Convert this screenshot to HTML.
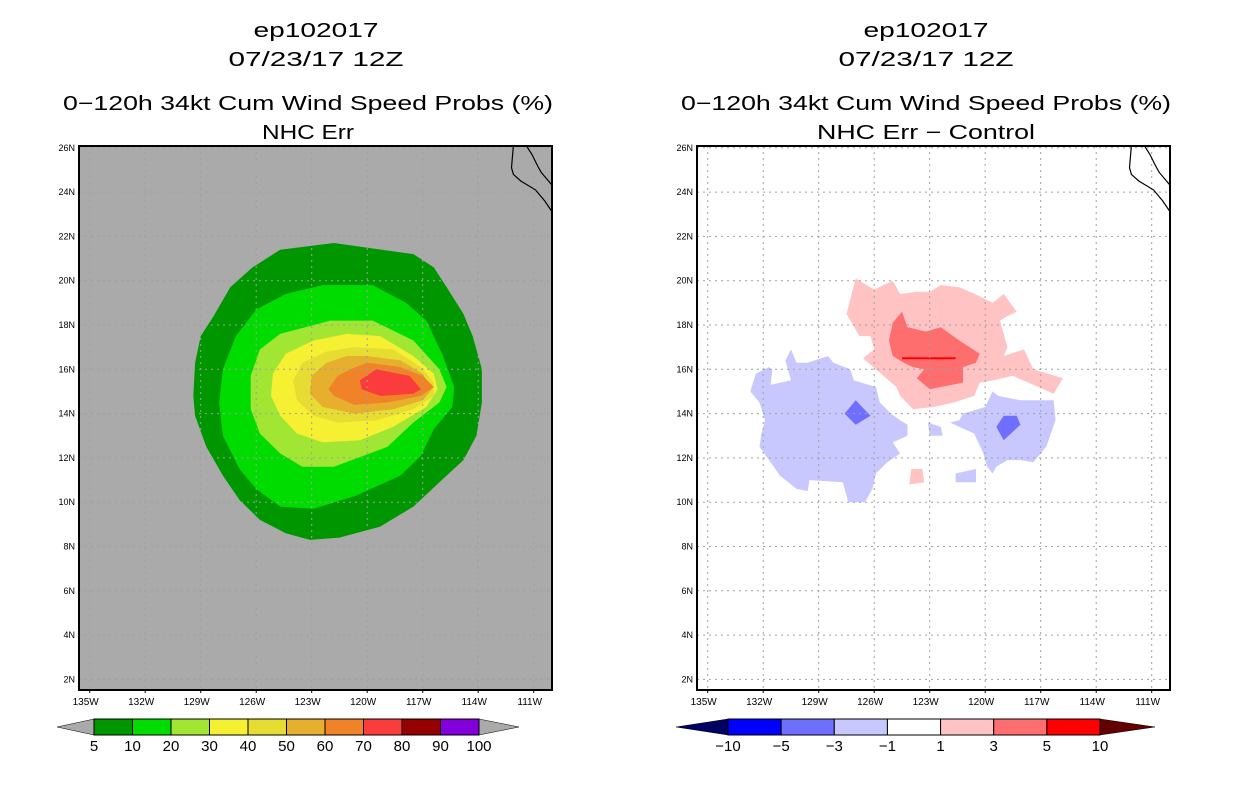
<!DOCTYPE html>
<html><head><meta charset="utf-8">
<style>
body{margin:0;background:#fff;width:1236px;height:800px;overflow:hidden;font-family:"Liberation Sans",sans-serif}
</style></head>
<body>
<svg id="svg" width="1236" height="800" xmlns="http://www.w3.org/2000/svg" font-family="Liberation Sans, sans-serif">
<g id="titles"></g>
<g id="left"></g>
<g id="right"></g>
<g id="cbars"></g>
</svg>
<script>
// ---- data ----
const lonTicks=[-135,-132,-129,-126,-123,-120,-117,-114,-111];
const lonTickLabels=["135W","132W","129W","126W","123W","120W","117W","114W","111W"];
const latTicks=[2,4,6,8,10,12,14,16,18,20,22,24,26];
const latTickLabels=["2N","4N","6N","8N","10N","12N","14N","16N","18N","20N","22N","24N","26N"];
const probLevels=["5","10","20","30","40","50","60","70","80","90","100"];
const probColors=["#009600","#00dc00","#a0e632","#f5f032","#e6dc32","#e6af2d","#f08228","#fa3c3c","#960000","#8200dc"];
const diffLevels=["\u221210","\u22125","\u22123","\u22121","1","3","5","10"];
const diffColors=["#0000ff","#6e6eff","#c8c8ff","#ffffff","#ffc3c3","#ff6e6e","#ff0000"];
const c5=[[-121.8,21.7],[-117.5,21.2],[-116.4,20.6],[-115.7,19.7],[-114.8,18.5],[-114.3,17.5],[-113.8,16.0],[-113.8,14.5],[-114.1,13.0],[-114.8,11.9],[-116.1,10.9],[-117.5,9.8],[-119.3,8.9],[-121.5,8.4],[-123.1,8.3],[-124.4,8.6],[-125.8,9.2],[-126.9,10.1],[-127.8,11.2],[-128.7,12.5],[-129.3,13.9],[-129.4,14.8],[-129.3,16.3],[-129.0,17.5],[-128.3,18.4],[-127.4,19.7],[-126.2,20.6],[-124.7,21.4]];
const c10=[[-122.4,19.8],[-119.7,19.8],[-117.9,19.0],[-116.8,18.2],[-115.9,16.6],[-115.3,15.2],[-115.4,14.3],[-116.4,13.3],[-117.1,12.1],[-118.2,11.2],[-120.6,10.3],[-122.9,9.7],[-124.7,9.8],[-126.0,10.6],[-126.9,11.5],[-127.8,13.0],[-128.0,14.5],[-127.8,16.0],[-127.1,17.5],[-126.0,18.7],[-124.4,19.4]];
const c20=[[-122.0,18.2],[-119.7,18.2],[-117.5,17.3],[-116.1,16.0],[-115.7,15.2],[-116.1,14.5],[-117.5,13.6],[-118.9,12.5],[-121.8,11.6],[-123.5,11.6],[-124.7,12.2],[-125.8,13.1],[-126.3,14.2],[-126.3,15.7],[-125.8,16.9],[-124.7,17.6]];
const c30=[[-121.1,17.6],[-119.3,17.5],[-117.5,16.6],[-116.4,15.8],[-116.2,15.1],[-116.8,14.3],[-118.6,13.4],[-120.4,12.8],[-122.4,12.7],[-123.8,13.1],[-124.7,13.9],[-125.2,14.8],[-125.1,15.8],[-124.4,16.7],[-122.9,17.3]];
const c40=[[-120.7,17.0],[-118.6,16.9],[-117.1,16.1],[-116.4,15.4],[-116.4,14.8],[-117.5,14.2],[-119.5,13.7],[-121.6,13.6],[-122.9,13.9],[-123.8,14.6],[-124.0,15.5],[-123.5,16.3],[-122.2,16.8]];
const c50=[[-120.0,16.6],[-118.2,16.4],[-117.0,15.8],[-116.5,15.1],[-117.0,14.6],[-118.6,14.2],[-120.7,14.0],[-122.4,14.3],[-123.1,14.9],[-123.0,15.7],[-122.2,16.3],[-121.1,16.6]];
const c60=[[-120.0,16.3],[-118.2,16.1],[-117.0,15.7],[-116.4,15.2],[-117.1,14.8],[-118.9,14.5],[-120.7,14.4],[-121.8,14.8],[-122.1,15.1],[-121.6,15.7],[-120.9,16.0]];
const c70=[[-119.5,16.0],[-117.7,15.7],[-117.1,15.1],[-117.5,14.9],[-119.3,14.8],[-120.3,15.1],[-120.4,15.5]];
const dPos1=[[-127.0,20.1],[-126.0,19.6],[-125.0,20.0],[-124.6,19.4],[-123.7,19.5],[-123.0,19.5],[-122.4,19.8],[-121.4,19.7],[-120.3,19.3],[-119.6,19.0],[-119.0,19.4],[-118.3,18.6],[-118.8,18.4],[-119.2,18.2],[-118.8,17.0],[-119.0,16.6],[-117.9,16.9],[-117.4,16.0],[-115.8,15.6],[-116.3,14.9],[-118.5,15.7],[-119.6,15.5],[-120.3,15.4],[-120.6,14.8],[-121.7,14.5],[-122.8,14.3],[-123.9,14.2],[-124.6,14.8],[-124.8,15.2],[-125.9,16.0],[-126.6,16.5],[-126.0,16.9],[-126.2,17.5],[-126.8,17.5],[-127.5,18.5]];
const dPos3=[[-124.5,18.6],[-124.2,17.9],[-123.2,17.7],[-122.4,17.9],[-121.4,17.3],[-120.3,16.7],[-120.5,16.3],[-121.2,16.1],[-121.2,15.4],[-122.4,15.2],[-123.0,15.1],[-123.7,15.6],[-123.3,16.0],[-123.9,16.1],[-124.4,16.3],[-125.0,16.6],[-125.2,17.3],[-125.0,18.1]];
const dNeg1a=[[-130.5,16.9],[-130.2,16.3],[-129.6,16.3],[-128.5,16.6],[-128.2,16.3],[-127.3,16.0],[-127.1,15.5],[-125.9,15.2],[-125.7,14.5],[-125.1,14.0],[-124.6,13.7],[-124.2,13.5],[-124.2,13.0],[-125.0,12.7],[-124.6,12.2],[-125.3,11.8],[-125.9,11.3],[-126.1,10.6],[-126.5,10.0],[-127.4,10.0],[-127.7,10.9],[-129.5,11.0],[-129.6,10.5],[-130.2,10.6],[-131.1,11.2],[-131.6,11.8],[-132.2,12.5],[-132.1,13.1],[-131.9,13.7],[-132.2,14.5],[-132.7,15.0],[-132.4,15.8],[-131.7,16.1],[-131.5,16.0],[-131.6,15.3],[-130.5,15.5],[-130.8,16.4]];
const dNeg1b=[[-119.6,15.0],[-119.3,14.8],[-118.1,14.6],[-116.3,14.6],[-116.2,13.7],[-116.7,12.5],[-117.4,11.8],[-118.1,11.9],[-118.8,11.9],[-119.4,11.6],[-119.6,11.3],[-119.9,11.6],[-120.1,12.2],[-120.6,13.1],[-121.4,13.4],[-121.9,13.6],[-121.4,13.7],[-121.2,14.0],[-120.0,14.3]];
const dNeg1c=[[-123.1,13.6],[-122.4,13.4],[-122.3,13.0],[-123.0,13.0]];
const dNeg1d=[[-121.6,11.3],[-120.5,11.5],[-120.5,10.9],[-121.6,10.9]];
const dPos1c=[[-124.0,11.5],[-123.4,11.5],[-123.3,10.9],[-124.1,10.8]];
const dNeg3a=[[-127.0,14.6],[-126.2,13.9],[-127.0,13.5],[-127.6,14.0]];
const dNeg3b=[[-119.0,13.9],[-118.3,13.9],[-118.1,13.5],[-119.0,12.8],[-119.4,13.4]];
const dPos5=[[-124.5,16.5],[-121.6,16.5]];
const coastBaja=[[-112.1,26.1],[-112.2,25.1],[-112.1,24.8],[-111.7,24.5],[-110.9,24.1],[-110.4,23.6],[-110.0,23.1]];
const coastMain=[[-111.4,26.1],[-111.1,25.7],[-110.8,25.2],[-110.6,24.9],[-110.2,24.5],[-110.0,24.3]];

const NS="http://www.w3.org/2000/svg";
function mk(parent,tag,attrs){const e=document.createElementNS(NS,tag);for(const k in attrs)e.setAttribute(k,attrs[k]);parent.appendChild(e);return e;}
const X0=79,X1=552,Y0=146,Y1=690;
function xs(lon,off){return 311.7+(lon+123)*18.5+off;}
function ys(lat){return 369.3-(lat-16)*22.15;}
function pts(arr,off){return arr.map(p=>xs(p[0],off).toFixed(1)+","+ys(p[1]).toFixed(1)).join(" ");}

function panel(g,off,bg,layers){
  const clipId="clip"+off;
  const cp=mk(g,"clipPath",{id:clipId});mk(cp,"rect",{x:X0+off,y:Y0,width:X1-X0,height:Y1-Y0});
  const bgR=mk(g,"rect",{x:X0+off,y:Y0,width:X1-X0,height:Y1-Y0,fill:bg});
  
  
  const cg=mk(g,"g",{"clip-path":"url(#"+clipId+")"});
  layers.forEach(l=>{
    const p=mk(cg,"polygon",{points:pts(l.d,off),fill:l.c});
    
    
  });
  return cg;
}
function gridAxes(g,cg,off){
  lonTicks.forEach((t,i)=>{
    const x=xs(t,off);
    mk(cg,"line",{x1:x,y1:Y0,x2:x,y2:Y1,stroke:"#a0a0a0","stroke-width":1,"stroke-dasharray":"2,4"});
    const tx=mk(g,"text",{x:x-4,y:Y1+15,"font-size":10,"text-anchor":"middle",fill:"#000"});
    tx.textContent=lonTickLabels[i];
    
    
    mk(g,"line",{x1:x,y1:Y1,x2:x,y2:Y1+3,stroke:"#000"});
  });
  latTicks.forEach((t,i)=>{
    const y=ys(t);
    mk(cg,"line",{x1:X0+off,y1:y,x2:X1+off,y2:y,stroke:"#a0a0a0","stroke-width":1,"stroke-dasharray":"2,4"});
    const tx=mk(g,"text",{x:X0+off-4,y:y+3,"font-size":9,"text-anchor":"end",fill:"#000"});
    tx.textContent=latTickLabels[i];
    
    
  });
  [coastBaja,coastMain].forEach(c=>{
    const pl=mk(cg,"polyline",{points:pts(c,off),fill:"none",stroke:"#000","stroke-width":1.2});
    
    
  });
  const fr=mk(g,"rect",{x:X0+off,y:Y0,width:X1-X0,height:Y1-Y0,fill:"none",stroke:"#000","stroke-width":2});
  
  
}
const L=document.getElementById("left"),R=document.getElementById("right");
const cgL=panel(L,0,"#aaaaaa",[
 {d:c5,c:probColors[0],n:"contour-5"},{d:c10,c:probColors[1],n:"contour-10"},{d:c20,c:probColors[2],n:"contour-20"},
 {d:c30,c:probColors[3],n:"contour-30"},{d:c40,c:probColors[4],n:"contour-40"},{d:c50,c:probColors[5],n:"contour-50"},
 {d:c60,c:probColors[6],n:"contour-60"},{d:c70,c:probColors[7],n:"contour-70"}]);
gridAxes(L,cgL,0);
const cgR=panel(R,618,"#ffffff",[
 {d:dPos1,c:diffColors[4],n:"diff-pos1"},{d:dPos3,c:diffColors[5],n:"diff-pos3"},
 {d:dNeg1a,c:diffColors[2],n:"diff-neg1-west"},{d:dNeg1b,c:diffColors[2],n:"diff-neg1-east"},
 {d:dNeg1c,c:diffColors[2],n:"diff-neg1-small"},{d:dNeg1d,c:diffColors[2],n:"diff-neg1-small"},
 {d:dPos1c,c:diffColors[4],n:"diff-pos1-small"},{d:dNeg3a,c:diffColors[1],n:"diff-neg3-west"},{d:dNeg3b,c:diffColors[1],n:"diff-neg3-east"}]);
const pl5=mk(cgR,"polyline",{points:pts(dPos5,618),stroke:diffColors[6],"stroke-width":2,fill:"none"});


gridAxes(R,cgR,618);

// titles
const T=document.getElementById("titles");
[[316,"ep102017",37,125],[316,"07/23/17 12Z",66,175],[308,"0\u2212120h 34kt Cum Wind Speed Probs (%)",110,490],[308,"NHC Err",139,92],
 [926,"ep102017",37,125],[926,"07/23/17 12Z",66,175],[926,"0\u2212120h 34kt Cum Wind Speed Probs (%)",110,490],[926,"NHC Err \u2212 Control",139,218]].forEach(t=>{
  const tx=mk(T,"text",{x:t[0],y:t[2],"font-size":20,"text-anchor":"middle",fill:"#000",textLength:t[3],lengthAdjust:"spacingAndGlyphs"});
  tx.textContent=t[1];
  
  
});

// colorbars
const C=document.getElementById("cbars");
function cbar(x0,x1,colors,labels,leftTri,rightTri,triL,triR){
  const w=(x1-x0)/colors.length,y0=719,y1=735,ym=727;
  const a=mk(C,"polygon",{points:`${triL},${ym} ${x0},${y0} ${x0},${y1}`,fill:leftTri,stroke:"#000","stroke-width":0.5});
  
  
  const b=mk(C,"polygon",{points:`${triR},${ym} ${x1},${y0} ${x1},${y1}`,fill:rightTri,stroke:"#000","stroke-width":0.5});
  
  
  colors.forEach((c,i)=>{
    const r=mk(C,"rect",{x:x0+i*w,y:y0,width:w,height:y1-y0,fill:c,stroke:"#000","stroke-width":1});
    
    
  });
  labels.forEach((l,i)=>{
    const tx=mk(C,"text",{x:x0+i*w,y:751,"font-size":15,"text-anchor":"middle",fill:"#000"});
    tx.textContent=l;
    
    
  });
}
cbar(94,479,probColors,probLevels,"#aaaaaa","#aaaaaa",57,519);
cbar(728,1100,diffColors,diffLevels,"#000064","#640000",676,1155);
</script>
</body></html>
